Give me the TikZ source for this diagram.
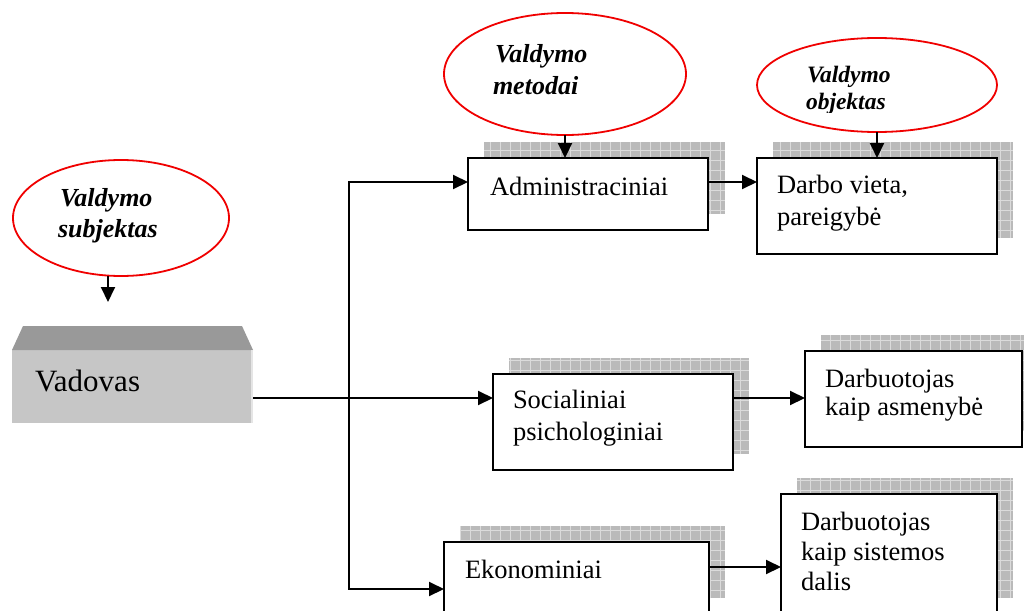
\documentclass[tikz,border=0pt]{standalone}
\usepackage{fontspec}
\setmainfont{Liberation Serif}
\usetikzlibrary{arrows.meta,shapes.geometric,calc}
\definecolor{vfront}{HTML}{C6C6C6}
\definecolor{vtop}{HTML}{999999}
\definecolor{ovalred}{HTML}{F00000}
\tikzset{
  every node/.style={inner sep=0pt, outer sep=0pt},
  box/.style={draw=black, line width=2.3pt, fill=white, rectangle, anchor=north west},
  oval/.style={draw=ovalred, line width=1.8pt, ellipse, fill=white},
  arr/.style={line width=2pt, -{Triangle[length=15pt,width=14pt]}},
  btxt/.style={anchor=base west, font=\fontsize{26.5}{30}\selectfont},
  etxt/.style={anchor=base west, font=\fontsize{26}{29}\selectfont\bfseries\itshape},
  etxtsmall/.style={anchor=base west, font=\fontsize{23.5}{26}\selectfont\bfseries\itshape},
  shadefill/.style={fill=black!27},
  gridline/.style={draw=white!86!black, line width=0.7pt},
}
\newcommand\hatchshade[4]{%
  \fill[shadefill] (#1,#2) rectangle (#3,#4);
  \begin{scope}
    \clip (#1,#2) rectangle (#3,#4);
    \draw[gridline, step=10pt] (#1,#4) grid (#3,#2);
  \end{scope}}
\begin{document}
\begin{tikzpicture}[x=1pt,y=-1pt]
\clip (0,0) rectangle (1024,610);
\fill[white] (0,0) rectangle (1024,610);

% shadows
\hatchshade{484}{142}{725}{214}
\hatchshade{773}{142}{1013}{238}
\hatchshade{509}{358}{749}{454}
\hatchshade{821}{335}{1040}{430}
\hatchshade{460}{526}{725}{598}
\hatchshade{797}{478}{1013}{598}

% boxes
\node[box, minimum width=240pt, minimum height=72pt] (adm) at (468,158) {};
\node[box, minimum width=240pt, minimum height=96pt] (darbo) at (757,158) {};
\node[box, minimum width=240pt, minimum height=96pt] (soc) at (493,374) {};
\node[box, minimum width=217pt, minimum height=96pt] (asm) at (805,351) {};
\node[box, minimum width=265pt, minimum height=72pt] (eko) at (444,542) {};
\node[box, minimum width=216pt, minimum height=120pt] (sist) at (781,494) {};

% box texts
\node[btxt] (adm-t) at (490,195) {Administraciniai};
\node[btxt] (darbo-t1) at (777,193) {Darbo vieta,};
\node[btxt] (darbo-t2) at (777,225) {pareigybė};
\node[btxt] (soc-t1) at (513,408) {Socialiniai};
\node[btxt] (soc-t2) at (513,440) {psichologiniai};
\node[btxt] (asm-t1) at (825,387) {Darbuotojas};
\node[btxt] (asm-t2) at (825,415) {kaip asmenybė};
\node[btxt] (eko-t) at (465,578) {Ekonominiai};
\node[btxt] (sist-t1) at (801,530) {Darbuotojas};
\node[btxt] (sist-t2) at (801,560) {kaip sistemos};
\node[btxt] (sist-t3) at (801,590) {dalis};

% Vadovas 3D block
\node[fill=vfront, minimum width=241pt, minimum height=73pt, anchor=north west] (vadovas) at (12,350) {};
\fill[vtop] (12,350) -- (23,326) -- (242,326) -- (253,350) -- cycle;
\fill[white!90!black] (250.5,350) rectangle (253,423);
\node[anchor=base west, font=\fontsize{31}{34}\selectfont] (vadovas-t) at (35,391) {Vadovas};

% ellipses
\node[oval, minimum width=216pt, minimum height=116pt] (e1) at (121,218) {};
\node[etxt] (e1-t1) at (60,206) {Valdymo};
\node[etxt] (e1-t2) at (58,237) {subjektas};
\node[oval, minimum width=242pt, minimum height=122pt] (e2) at (565,74) {};
\node[etxt] (e2-t1) at (495,63) {Valdymo};
\node[etxt] (e2-t2) at (493,94) {metodai};
\node[oval, minimum width=240pt, minimum height=94pt] (e3) at (877,85) {};
\begin{scope}
  \clip (760,40) rectangle (1000,112);
  \node[etxtsmall] (e3-t1) at (807,82) {Valdymo};
  \node[etxtsmall] (e3-t2) at (806,109) {objektas};
\end{scope}

% connectors
\coordinate (busTop) at (349,182);
\coordinate (busBot) at (349,589);
\coordinate (vout) at (vadovas.east |- 0,398);
\coordinate (ekoOut) at (0,567);
\coordinate (a1end) at (108,302);
\draw[arr] (vout) -- (soc.west |- vout);
\draw[arr] (busTop) -- (busBot) -- (eko.west |- busBot);
\draw[arr] (busBot) -- (busTop) -- (adm.west |- busTop);
\draw[arr] (adm.east |- busTop) -- (darbo.west |- busTop);
\draw[arr] (soc.east |- vout) -- (asm.west |- vout);
\draw[arr] (eko.east |- ekoOut) -- (sist.west |- ekoOut);
\draw[arr] (e2.south) -- (e2.south |- adm.north);
\draw[arr] (e3.south) -- (e3.south |- darbo.north);
\draw[arr] (a1end |- e1.south) -- (a1end);
\end{tikzpicture}
\end{document}
